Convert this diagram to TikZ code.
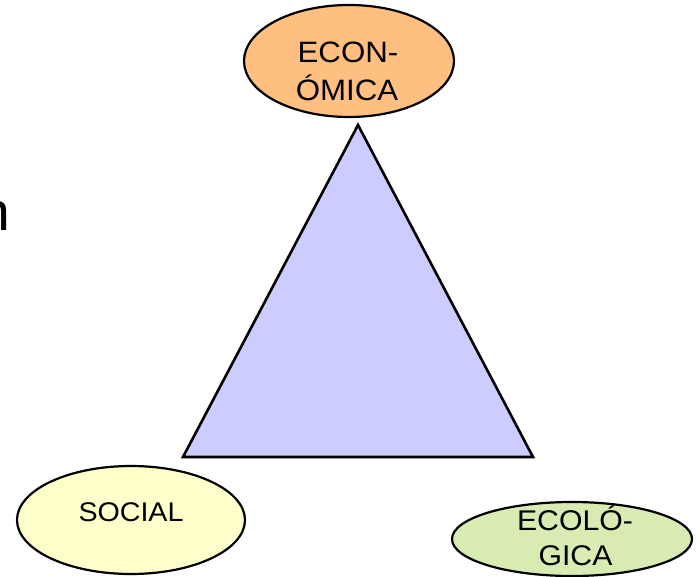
\documentclass[tikz,border=0pt]{standalone}
\usepackage{fontspec}
\setmainfont[FakeStretch=1.06]{Liberation Sans}
\usetikzlibrary{shapes.geometric}
\definecolor{peach}{HTML}{FFBF80}
\definecolor{paleyellow}{HTML}{FFFFCC}
\definecolor{palegreen}{HTML}{D8EBB2}
\definecolor{lavender}{HTML}{CCCCFF}
\begin{document}
\begin{tikzpicture}[x=1pt,y=-1pt,
  oval/.style={draw=black,line width=2.2pt,ellipse,inner sep=0pt},
  lbl/.style={inner sep=0pt,anchor=base}]
\useasboundingbox (0,0) rectangle (700,577);
\node[anchor=base east,font=\fontsize{54}{60}\selectfont,inner sep=0pt] (n) at (11,230) {n};
\coordinate (apex) at (358,125);
\coordinate (bl) at (183,457);
\coordinate (br) at (533,457);
\draw[fill=lavender,line width=2.6pt,line join=miter] (apex) -- (br) -- (bl) -- cycle;
\node[oval,fill=peach,minimum width=210pt,minimum height=112pt] (eco) at (349,61) {};
\node[lbl,font=\fontsize{29.5}{30}\selectfont] (eco1) at (348,63) {ECON-};
\node[lbl,font=\fontsize{29.5}{30}\selectfont] (eco2) at (347,101) {ÓMICA};
\node[oval,fill=paleyellow,minimum width=228pt,minimum height=108pt] (soc) at (131,520) {};
\node[lbl,font=\fontsize{27}{30}\selectfont] (soc1) at (131,521) {SOCIAL};
\node[oval,fill=palegreen,minimum width=240pt,minimum height=74pt] (ecol) at (572,539) {};
\node[lbl,font=\fontsize{28.5}{30}\selectfont] (ecol1) at (575,530) {ECOLÓ-};
\node[lbl,font=\fontsize{28.5}{30}\selectfont] (ecol2) at (575.5,565) {GICA};
\end{tikzpicture}
\end{document}
